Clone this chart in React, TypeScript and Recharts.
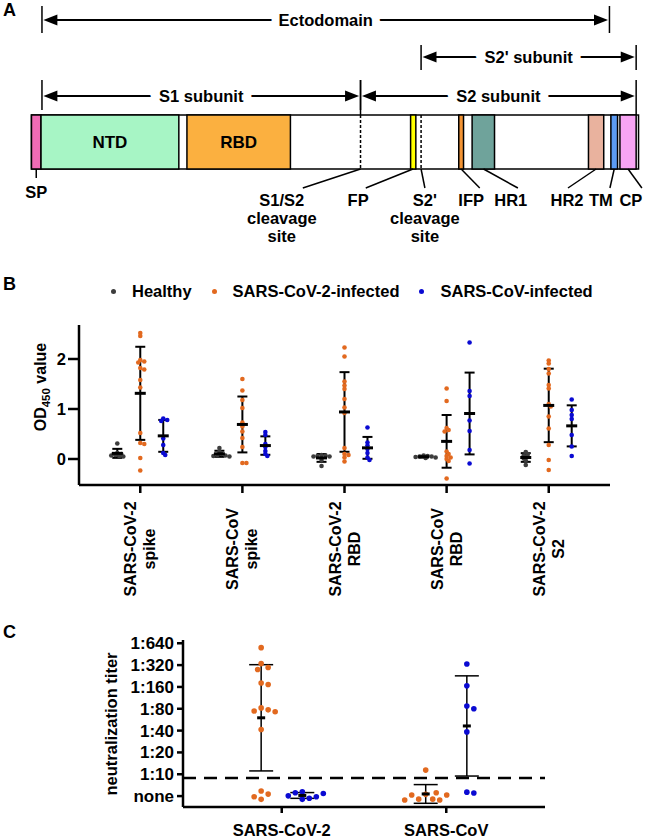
import React from "react";
import {
  ScatterChart,
  Scatter,
  XAxis,
  YAxis,
  ReferenceArea,
  ReferenceLine,
  ErrorBar,
  Legend,
} from "recharts";

const FONT = '"Liberation Sans", Arial, sans-serif';

// ---------- panel A: spike protein (residue numbers) ----------
const proteinLength = 1273;
const domainNames = ["SP", "NTD", "RBD", "FP", "IFP", "HR1", "HR2", "TM", "CP"];
const domainStart = [0, 20, 326, 795, 896, 924, 1168, 1215, 1234];
const domainEnd = [20, 309, 543, 806, 906, 971, 1200, 1229, 1268];
const domainColors = ["#f06bb5", "#a7f5c5", "#fbb040", "#ffff00", "#f29333", "#6fa39b", "#e9b29e", "#5b9bf3", "#f8a4f4"];
const cleavageSites = [690, 817];
const subunitNames = ["Ectodomain", "S2' subunit", "S1 subunit", "S2 subunit"];
const subunitStart = [22, 817, 22, 690];
const subunitEnd = [1212, 1268, 690, 1268];
const siteLabels = ["SP", "S1/S2\ncleavage\nsite", "FP", "S2'\ncleavage\nsite", "IFP", "HR1", "HR2", "TM", "CP"];
const siteOnBar = [10, 690, 800, 817, 901, 948, 1184, 1222, 1251];
const siteLeaderEnd = [10, 569, 701, 825, 940, 1020, 1125, 1213, 1280];
const siteLabelAt = [10, 525, 685, 825, 922, 1005, 1123, 1194, 1257];

// ---------- panel B: OD450 ----------
const antigens = ["SARS-CoV-2\nspike", "SARS-CoV\nspike", "SARS-CoV-2\nRBD", "SARS-CoV\nRBD", "SARS-CoV-2\nS2"];
const odTicks = [0, 1, 2];
const groupNames = ["Healthy", "SARS-CoV-2-infected", "SARS-CoV-infected"];
const groupColors = ["#3d3d3d", "#e2691f", "#0a0ad2"];
const healthyOD = [
  [0.31, 0.12, 0.1, 0.08, 0.07, 0.06, 0.05],
  [0.22, 0.15, 0.1, 0.08, 0.07, 0.06, 0.05],
  [0.08, 0.07, 0.06, 0.05, 0.05, -0.02, -0.14],
  [0.07, 0.06, 0.05, 0.05, 0.04, 0.03, 0.02],
  [0.14, 0.1, 0.07, 0.04, 0.01, -0.03, -0.12],
];
const cov2OD = [
  [2.52, 2.46, 1.98, 1.95, 1.93, 1.82, 1.79, 1.58, 1.43, 0.52, 0.32, 0.3, 0.02, -0.23],
  [1.6, 1.37, 1.18, 1.02, 0.73, 0.65, 0.55, 0.42, 0.24, -0.08, -0.08],
  [2.23, 2.05, 1.55, 1.47, 1.4, 1.2, 1.03, 0.92, 0.22, 0.1, 0.08, 0.03, -0.05],
  [1.41, 1.16, 0.62, 0.58, 0.55, 0.15, 0.1, 0.06, 0.03, 0.0, -0.04, -0.39],
  [1.97, 1.91, 1.8, 1.71, 1.48, 1.41, 1.1, 1.05, 0.85, 0.61, 0.28, -0.02, -0.22],
];
const covOD = [
  [0.81, 0.78, 0.76, 0.41, 0.28, 0.12, 0.08],
  [0.54, 0.48, 0.3, 0.24, 0.16, 0.1, 0.06],
  [0.63, 0.33, 0.27, 0.2, 0.12, 0.03, -0.02],
  [2.33, 1.36, 1.26, 0.77, 0.56, 0.18, -0.09],
  [1.19, 0.98, 0.88, 0.8, 0.48, 0.25, 0.06],
];

// ---------- panel C: neutralization (0 = none, 1 = 1:10, 2 = 1:20 ...) ----------
const viruses = ["SARS-CoV-2", "SARS-CoV"];
const titerLabels = ["none", "1:10", "1:20", "1:40", "1:80", "1:160", "1:320", "1:640"];
const detectionLimit = 0.83;
const cov2Titer = [
  [6.8, 6.07, 5.89, 5.8, 5.18, 5.11, 4.04, 3.95, 3.9, 3.86, 3.05, 0.23, 0.09, -0.15, -0.03],
  [1.19, 0.08, -0.14, -0.14, -0.18, 0.05, 0.05, -0.18, 0.15],
];
const covTiter = [
  [0.2, -0.15, -0.1, 0.15, -0.03, 0.01, 0.12],
  [6.05, 5.05, 4.13, 4.0, 2.94, 0.18, 0.14],
];

const mean = (a: number[]) => a.reduce((s, v) => s + v, 0) / a.length;
const sd = (a: number[]) => {
  const m = mean(a);
  return Math.sqrt(a.reduce((s, v) => s + (v - m) * (v - m), 0) / (a.length - 1));
};

// column-scatter layout: push a point sideways only when it would overlap one already placed
// ux / uy are pixels per data unit, gap and step in pixels
function swarm(vals: number[], center: number, ux: number, uy: number, gap: number, step: number) {
  const placed: { dx: number; v: number }[] = [];
  return vals.map((v) => {
    let dx = 0;
    for (let k = 0; k < 60; k++) {
      const off = Math.ceil(k / 2) * (k % 2 ? 1 : -1) * step;
      if (placed.every((q) => Math.hypot(q.dx - off, (q.v - v) * uy) >= gap)) {
        dx = off;
        break;
      }
    }
    placed.push({ dx, v });
    return { x: center + dx / ux, y: v };
  });
}

const bOffsets = [-0.225, 0, 0.225];
const odSeries = [healthyOD, cov2OD, covOD].map((groups, s) => ({
  points: groups.flatMap((vals, g) => swarm(vals, g + bOffsets[s], 102, 50, 2.8, 2)),
  summary: groups.map((vals, g) => ({ x: g + bOffsets[s], y: mean(vals), sd: sd(vals) })),
}));

const cOffsets = [-0.125, 0.125];
const titerSeries = [cov2Titer, covTiter].map((groups, s) => ({
  points: groups.flatMap((vals, g) => swarm(vals, g + cOffsets[s], 164.5, 21.86, 6.5, 3.5)),
  summary: groups.map((vals, g) => ({ x: g + cOffsets[s], y: mean(vals), sd: sd(vals) })),
}));

const dot = (r: number, color: string) => (p: any) => <circle cx={p.cx} cy={p.cy} r={r} fill={color} />;
const meanMark = (half: number) => (p: any) => (
  <line x1={p.cx - half} x2={p.cx + half} y1={p.cy} y2={p.cy} stroke="#000" strokeWidth={3} />
);

const textStyle = { fontFamily: FONT, fontWeight: 700, fill: "#000" } as const;

function Arrow(p: any) {
  const { x1, y1, x2, text } = p;
  const L = 14;
  const H = 5.5;
  return (
    <g>
      <line x1={x1 + L - 2} y1={y1} x2={x2 - L + 2} y2={y1} stroke="#000" strokeWidth={2} />
      <polygon points={`${x1},${y1} ${x1 + L},${y1 - H} ${x1 + L},${y1 + H}`} fill="#000" />
      <polygon points={`${x2},${y1} ${x2 - L},${y1 - H} ${x2 - L},${y1 + H}`} fill="#000" />
      <text
        x={(x1 + x2) / 2}
        y={y1}
        dy="0.36em"
        textAnchor="middle"
        fontSize={16.5}
        stroke="#fff"
        strokeWidth={16}
        paintOrder="stroke"
        style={textStyle}
      >
        {text}
      </text>
    </g>
  );
}

function SiteLabel(p: any) {
  const text: string = (p.payload && p.payload.text) || p.text || "";
  return (
    <g>
      {text.split("\n").map((line, i) => (
        <text key={i} x={p.cx} y={p.cy + i * 18} dy="0.36em" textAnchor="middle" fontSize={16.5} style={textStyle}>
          {line}
        </text>
      ))}
    </g>
  );
}

const barTop = 115;
const barBottom = 169;
const arrowRows = [20, 57, 96, 96];
const arrowTicks = [
  [6, 33],
  [45, 70],
  [80, 110],
  [80, 115],
];

function PanelA() {
  const labelData = siteLabels.map((t, i) => ({ x: siteLabelAt[i], y: i === 0 ? 192 : 200, text: t }));
  return (
    <ScatterChart width={660} height={250} margin={{ top: 0, right: 0, bottom: 0, left: 0 }}>
      <XAxis type="number" dataKey="x" domain={[-66, 1318]} hide allowDataOverflow />
      <YAxis type="number" dataKey="y" domain={[0, 250]} reversed hide allowDataOverflow />
      <ReferenceArea x1={0} x2={proteinLength} y1={barTop} y2={barBottom} fill="#fff" fillOpacity={1} stroke="#000" strokeWidth={1.5} />
      {domainNames.map((n, i) => (
        <ReferenceArea
          key={n}
          x1={domainStart[i]}
          x2={domainEnd[i]}
          y1={barTop}
          y2={barBottom}
          fill={domainColors[i]}
          fillOpacity={1}
          stroke="#000"
          strokeWidth={1.5}
          label={
            n === "NTD" || n === "RBD"
              ? { value: n, position: "center", fill: "#000", fontSize: 17, fontWeight: 700, fontFamily: FONT }
              : undefined
          }
        />
      ))}
      {cleavageSites.map((c) => (
        <ReferenceLine
          key={c}
          segment={[
            { x: c, y: barTop },
            { x: c, y: barBottom },
          ]}
          stroke="#000"
          strokeWidth={1.5}
          strokeDasharray="3 2"
        />
      ))}
      {subunitNames.map((n, i) => (
        <React.Fragment key={n}>
          {[subunitStart[i], subunitEnd[i]].map((r) => (
            <ReferenceLine
              key={r}
              segment={[
                { x: r, y: arrowTicks[i][0] },
                { x: r, y: arrowTicks[i][1] },
              ]}
              stroke="#000"
              strokeWidth={1.5}
            />
          ))}
          <ReferenceLine
            segment={[
              { x: subunitStart[i] + 3, y: arrowRows[i] },
              { x: subunitEnd[i] - 3, y: arrowRows[i] },
            ]}
            shape={(p: any) => <Arrow {...p} text={n} />}
          />
        </React.Fragment>
      ))}
      {siteLabels.map((t, i) => (
        <ReferenceLine
          key={t}
          segment={[
            { x: siteOnBar[i], y: barBottom },
            { x: siteLeaderEnd[i], y: i === 0 ? 178 : 188 },
          ]}
          stroke="#000"
          strokeWidth={1.5}
        />
      ))}
      <Scatter data={labelData} shape={(p: any) => <SiteLabel {...p} />} isAnimationActive={false} />
    </ScatterChart>
  );
}

function AntigenTick(p: any) {
  const lines = antigens[p.payload.value].split("\n");
  return (
    <g transform={`translate(${p.x},${p.y + 56}) rotate(-90)`}>
      {lines.map((l, i) => (
        <text key={i} x={0} y={(i - (lines.length - 1) / 2) * 19 + 5.6} textAnchor="middle" fontSize={16} style={textStyle}>
          {l}
        </text>
      ))}
    </g>
  );
}

function renderLegend(props: any) {
  const items = (props.payload || []).filter((e: any) => groupNames.includes(e.value));
  return (
    <div style={{ height: 47, display: "flex", alignItems: "flex-start", paddingLeft: 111 }}>
      {items.map((e: any) => (
        <div key={e.value} style={{ display: "flex", alignItems: "center", height: 26, marginRight: 20 }}>
          <span
            style={{ width: 5, height: 5, borderRadius: "50%", background: e.color, display: "inline-block", marginRight: 16 }}
          />
          <span style={{ fontFamily: FONT, fontWeight: 700, fontSize: 16.5, color: "#000" }}>{e.value}</span>
        </div>
      ))}
    </div>
  );
}

const axisStroke = { stroke: "#000", strokeWidth: 2.5 };

function PanelB() {
  return (
    <ScatterChart width={660} height={370} margin={{ top: 8, right: 50, bottom: 5, left: 0 }}>
      <XAxis
        type="number"
        dataKey="x"
        domain={[-0.6, 4.6]}
        ticks={[0, 1, 2, 3, 4]}
        interval={0}
        allowDataOverflow
        height={150}
        tickSize={8}
        tickMargin={0}
        axisLine={axisStroke}
        tickLine={axisStroke}
        tick={<AntigenTick />}
      />
      <YAxis
        type="number"
        dataKey="y"
        domain={[-0.52, 2.68]}
        ticks={odTicks}
        interval={0}
        allowDataOverflow
        width={79}
        tickSize={11}
        tickMargin={2}
        axisLine={axisStroke}
        tickLine={axisStroke}
        tick={{ fontSize: 16.5, fontWeight: 700, fontFamily: FONT, fill: "#000" }}
        label={{
          content: () => (
            <text transform="rotate(-90 40 117)" x={40} y={117} dy="0.36em" textAnchor="middle" fontSize={16} style={textStyle}>
              OD
              <tspan dy={4} fontSize={11.5}>
                450
              </tspan>
              <tspan dy={-4}> value</tspan>
            </text>
          ),
        }}
      />
      <Legend verticalAlign="top" align="left" content={renderLegend} wrapperStyle={{ top: 8, left: 0, width: 660 }} />
      {odSeries.map((s, i) => (
        <Scatter
          key={groupNames[i]}
          name={groupNames[i]}
          data={s.points}
          fill={groupColors[i]}
          shape={dot(2.3, groupColors[i])}
          isAnimationActive={false}
        />
      ))}
      {odSeries.map((s, i) => (
        <Scatter key={"m" + i} data={s.summary} legendType="none" shape={meanMark(5.5)} isAnimationActive={false}>
          <ErrorBar dataKey="sd" direction="y" width={5} stroke="#000" strokeWidth={2} />
        </Scatter>
      ))}
    </ScatterChart>
  );
}

function PanelC() {
  return (
    <ScatterChart width={660} height={240} margin={{ top: 40, right: 115, bottom: 0, left: 0 }}>
      <XAxis
        type="number"
        dataKey="x"
        domain={[-0.6, 1.6]}
        ticks={[0, 1]}
        interval={0}
        allowDataOverflow
        height={33}
        tickSize={6}
        tickMargin={11}
        axisLine={axisStroke}
        tickLine={axisStroke}
        tickFormatter={(v: number) => viruses[v]}
        tick={{ fontSize: 16.5, fontWeight: 700, fontFamily: FONT, fill: "#000" }}
      />
      <YAxis
        type="number"
        dataKey="y"
        domain={[-0.5, 7.15]}
        ticks={titerLabels.map((_, i) => i)}
        interval={0}
        allowDataOverflow
        width={183}
        tickSize={6}
        tickMargin={3}
        axisLine={axisStroke}
        tickLine={axisStroke}
        tickFormatter={(v: number) => titerLabels[v]}
        tick={{ fontSize: 17, fontWeight: 700, fontFamily: FONT, fill: "#000" }}
        label={{
          content: () => (
            <text transform="rotate(-90 111 124)" x={111} y={124} dy="0.36em" textAnchor="middle" fontSize={16.5} style={textStyle}>
              neutralization titer
            </text>
          ),
        }}
      />
      <ReferenceLine y={detectionLimit} stroke="#000" strokeWidth={2.5} strokeDasharray="13 8" />
      {titerSeries.map((s, i) => (
        <Scatter
          key={"c" + i}
          name={groupNames[i + 1]}
          data={s.points}
          shape={dot(2.8, groupColors[i + 1])}
          isAnimationActive={false}
        />
      ))}
      {titerSeries.map((s, i) => (
        <Scatter key={"cm" + i} data={s.summary} shape={meanMark(4)} isAnimationActive={false}>
          <ErrorBar dataKey="sd" direction="y" width={12} stroke="#000" strokeWidth={1.5} />
        </Scatter>
      ))}
    </ScatterChart>
  );
}

const panelLetter = (t: string, top: number) => (
  <div style={{ position: "absolute", left: 3, top, fontFamily: FONT, fontWeight: 700, fontSize: 18, lineHeight: 1 }}>{t}</div>
);

export default function App() {
  return (
    <div style={{ position: "absolute", left: 0, top: 0, width: 660, height: 840, background: "#fff", overflow: "hidden" }}>
      <div style={{ position: "absolute", left: 0, top: 0 }}>
        <PanelA />
      </div>
      <div style={{ position: "absolute", left: 0, top: 270 }}>
        <PanelB />
      </div>
      <div style={{ position: "absolute", left: 0, top: 600 }}>
        <PanelC />
      </div>
      {panelLetter("A", 1)}
      {panelLetter("B", 275)}
      {panelLetter("C", 623)}
    </div>
  );
}
